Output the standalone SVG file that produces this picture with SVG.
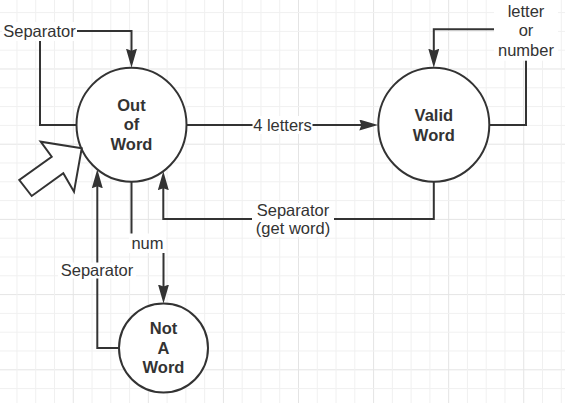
<svg xmlns="http://www.w3.org/2000/svg" width="565" height="403" viewBox="0 0 565 403">
<style>
.node{fill:#ffffff;stroke:#333333;stroke-width:2}
.edge{fill:none;stroke:#333333;stroke-width:2}
.nt{font-family:"Liberation Sans",Arial,sans-serif;font-size:16.5px;font-weight:bold;fill:#333333;text-anchor:middle}
.lt{font-family:"Liberation Sans",Arial,sans-serif;font-size:16.5px;fill:#333333;text-anchor:middle}
.bg{fill:#ffffff}
</style>
<defs>
<pattern id="grid" patternUnits="userSpaceOnUse" x="-2.32" y="-6.7" width="75.08" height="75.2">
<path d="M0.5,0 V75.2 M0,0.5 H75.08" stroke="#e4e4e4" stroke-width="1" fill="none"/>
<path d="M19.27,0 V75.2 M38.04,0 V75.2 M56.81,0 V75.2 M0,19.3 H75.08 M0,38.1 H75.08 M0,56.9 H75.08" stroke="#f0f0f0" stroke-width="1" fill="none"/>
</pattern>
<marker id="arr" markerUnits="userSpaceOnUse" viewBox="0 0 19 11" markerWidth="19" markerHeight="11" refX="9" refY="5.5" orient="auto">
<path d="M0,0 L19,5.5 L0,11 L2,5.5 Z" fill="#333333"/>
</marker>
</defs>
<rect width="565" height="403" fill="#ffffff"/>
<rect width="565" height="403" fill="url(#grid)"/>

<g id="connectors">
<path class="edge" d="M76.5,125 H40 V31 H131.5 V57.7" marker-end="url(#arr)"/>
<path class="edge" d="M186.5,125 H368.3" marker-end="url(#arr)"/>
<path class="edge" d="M489.3,125 H526 V29.3 H433.8 V57.7" marker-end="url(#arr)"/>
<path class="edge" d="M433.8,181.7 V219 H163.3 V181.2" marker-end="url(#arr)"/>
<path class="edge" d="M131.5,181.7 V243 H163.5 V293.5" marker-end="url(#arr)"/>
<path class="edge" d="M119,348 H97.3 V179.3" marker-end="url(#arr)"/>
<g id="labels">
<rect class="bg" x="2" y="22" width="75" height="19"/>
<text class="lt" x="39.5" y="36.7">Separator</text>
<rect class="bg" x="252.5" y="116" width="60" height="18"/>
<text class="lt" x="282.5" y="130.7">4 letters</text>
<rect class="bg" x="494" y="0" width="64" height="60.7"/>
<text class="lt" x="526" y="16.7">letter</text>
<text class="lt" x="526" y="36.2">or</text>
<text class="lt" x="526" y="55.7">number</text>
<rect class="bg" x="252" y="203" width="82" height="34"/>
<text class="lt" x="293" y="215.5">Separator</text>
<text class="lt" x="293" y="234">(get word)</text>
<rect class="bg" x="129" y="233.5" width="37" height="19.5"/>
<text class="lt" x="147.5" y="248.7">num</text>
<rect class="bg" x="58" y="262.5" width="78" height="16"/>
<text class="lt" x="97" y="275.7">Separator</text>
</g>
</g>

<g id="out-of-word">
<ellipse class="node" cx="131.5" cy="124.7" rx="55" ry="57"/>
<text class="nt" x="131.5" y="110.5">Out</text>
<text class="nt" x="131.5" y="130.3">of</text>
<text class="nt" x="131.5" y="150">Word</text>
</g>

<g id="valid-word">
<ellipse class="node" cx="433.8" cy="124.7" rx="55.5" ry="57"/>
<text class="nt" x="433.8" y="120.8">Valid</text>
<text class="nt" x="433.8" y="140.5">Word</text>
</g>

<g id="not-a-word">
<ellipse class="node" cx="163.5" cy="348" rx="44.5" ry="44.5"/>
<text class="nt" x="163.5" y="334">Not</text>
<text class="nt" x="163.5" y="353.7">A</text>
<text class="nt" x="163.5" y="373.4">Word</text>
</g>

<g id="start-arrow">
<polygon class="node" points="81.7,148.3 40.7,141.7 51.7,156.7 19.3,180 31.7,196 63.3,173.3 74,191.7"/>
</g>
</svg>
